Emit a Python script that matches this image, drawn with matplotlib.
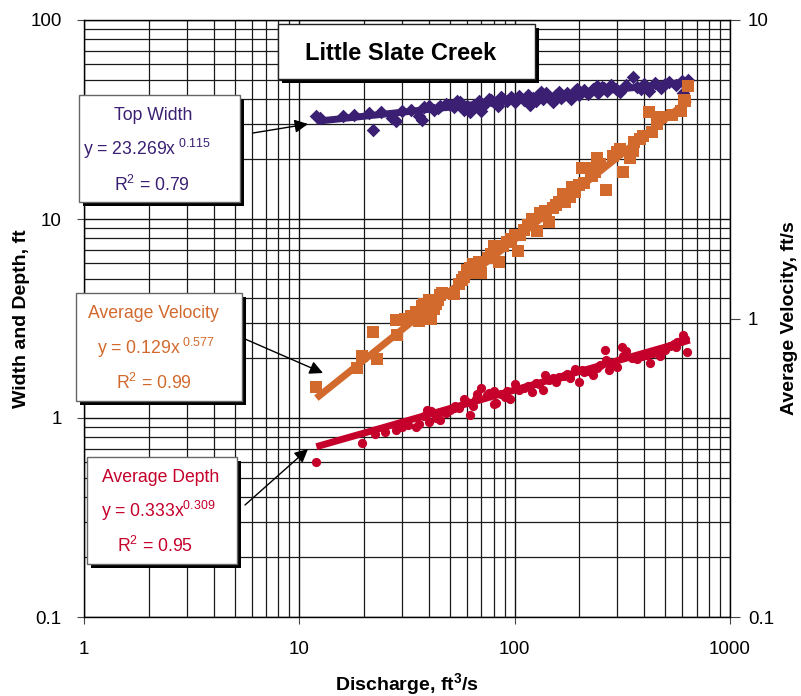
import matplotlib.pyplot as plt
from matplotlib.patches import Rectangle
from matplotlib.ticker import LogLocator, NullFormatter, NullLocator
import numpy as np

plt.rcParams['font.family'] = ['Liberation Sans', 'DejaVu Sans']
plt.rcParams['mathtext.fontset'] = 'custom'
plt.rcParams['mathtext.rm'] = 'Liberation Sans'
plt.rcParams['mathtext.it'] = 'Liberation Sans:italic'
plt.rcParams['mathtext.bf'] = 'Liberation Sans:bold'

# Top width, ft (left axis) vs discharge, ft3/s
tw_q = [12, 12.5, 16, 18, 21, 22, 24, 27, 28, 30, 33, 36, 37, 38, 40, 42, 45, 48,
        52, 56, 58, 60, 62, 65, 68, 70, 73, 76, 80, 84, 88, 92, 96, 100, 105, 110,
        115, 118, 122, 128, 135, 140, 145, 150, 155, 160, 168, 175, 182, 190, 200,
        210, 220, 232, 245, 255, 268, 280, 295, 310, 355, 370, 400, 420, 450, 480,
        520, 560, 600, 606, 640,
        44, 50, 54, 64, 78, 86, 98, 125, 132, 165, 195, 240, 260, 330, 385, 500]
tw_w = [33, 32, 33, 33.5, 34, 28, 34.5, 32, 31, 35, 35.5, 33, 31.5, 36.5, 37, 35.5,
        37, 38, 36.5, 38.5, 35.5, 37, 34.5, 37.5, 39, 35, 38, 40, 38.5, 37, 40, 39,
        41, 38.5, 41.5, 39.5, 42, 37.5, 40.5, 42, 40, 43, 41, 38.5, 42, 43.5, 41.5,
        43, 40, 44, 42, 44.5, 42.5, 45, 43, 46, 44, 47, 45, 43.5, 51.5, 46, 47.5,
        44, 48, 45.5, 49, 47, 49.5, 43, 50,
        36, 37.5, 39, 36.5, 39.5, 41, 40, 39, 43.5, 40.5, 45, 46.5, 45.5, 47, 45, 47.5]

# Average velocity, ft/s (right axis)
vel_q = [12, 18.5, 19.5, 22, 23, 28, 28.5, 31, 33, 35, 36, 37, 39, 40, 41, 42, 43,
         45, 46, 52, 55, 58, 60, 62, 64, 66, 70, 75, 80, 85, 88, 92, 96, 104, 106,
         110, 115, 120, 127, 131, 138, 145, 150, 160, 168, 172, 180, 190, 200, 205,
         210, 218, 225, 235, 240, 250, 265, 285, 310, 318, 345, 355, 360, 395, 420,
         435, 460, 540, 590, 610, 620, 640,
         38, 44, 57, 68, 78, 100, 140, 155, 185, 228, 300, 380, 480]
vel_v = [0.59, 0.68, 0.75, 0.90, 0.73, 0.99, 0.88, 1.0, 1.02, 1.05, 0.98, 1.10,
         1.05, 1.15, 1.0, 1.08, 1.12, 1.2, 1.22, 1.21, 1.3, 1.38, 1.45, 1.48, 1.52,
         1.42, 1.42, 1.6, 1.75, 1.55, 1.75, 1.8, 1.85, 1.68, 1.9, 1.98, 2.05, 2.15,
         1.97, 2.25, 2.3, 2.1, 2.35, 2.45, 2.62, 2.45, 2.55, 2.65, 2.8, 3.2, 2.85,
         3.2, 3.1, 3.1, 3.45, 3.3, 2.7, 3.5, 3.7, 3.1, 3.45, 3.65, 3.9, 4.1, 4.9,
         4.2, 4.5, 4.8, 4.95, 5.4, 5.35, 6.0,
         1.12, 1.15, 1.35, 1.55, 1.65, 1.9, 2.2, 2.4, 2.75, 3.0, 3.6, 4.0, 4.75]

# Average depth, ft (left axis)
dep_q = [12, 19.5, 22.5, 25, 28, 30, 32, 35, 36, 39, 40, 41, 44, 45, 48, 50, 53, 55,
         58, 60, 62, 64, 67, 70, 74, 80, 80, 82, 86, 90, 95, 100, 105, 110, 115,
         120, 125, 130, 135, 138, 145, 155, 160, 170, 180, 190, 200, 210, 220, 230,
         240, 250, 263, 275, 285, 300, 315, 330, 350, 370, 390, 410, 425, 450, 475,
         500, 525, 550, 570, 590, 605, 620, 632,
         38, 43, 52, 66, 76, 92, 118, 150, 175, 205, 265, 320, 440, 560]
dep_d = [0.60, 0.75, 0.83, 0.85, 0.87, 0.90, 0.92, 0.90, 0.93, 1.10, 0.96, 1.08,
         1.05, 0.98, 1.06, 1.10, 1.15, 1.12, 1.25, 1.20, 1.03, 1.15, 1.32, 1.42,
         1.30, 1.37, 1.17, 1.19, 1.32, 1.28, 1.24, 1.48, 1.38, 1.42, 1.45, 1.35,
         1.50, 1.48, 1.38, 1.65, 1.55, 1.52, 1.60, 1.62, 1.58, 1.77, 1.52, 1.70,
         1.72, 1.65, 1.78, 1.85, 2.20, 1.75, 1.90, 1.80, 2.27, 2.17, 2.00, 1.98,
         2.05, 2.07, 1.90, 2.15, 2.05, 2.20, 2.30, 2.35, 2.40, 2.45, 2.62, 2.50, 2.15,
         1.02, 1.0, 1.12, 1.25, 1.33, 1.36, 1.45, 1.58, 1.66, 1.75, 1.95, 2.05, 2.12, 2.28]

# power fits given in the boxes, y = a * x^b
fit_q = np.array([12.0, 650.0])
tw_a, tw_b = 23.269, 0.115
vel_a, vel_b = 0.129, 0.577
dep_a, dep_b = 0.333, 0.309

c_tw = '#3A1F72'
c_vel = '#D2692D'
c_dep = '#C4002B'

W, H = 801, 696
def fx(px):
    return px / W
def fy(py):
    return 1 - py / H

fig = plt.figure(figsize=(W / 100, H / 100), dpi=100)
ax = fig.add_axes([fx(84), fy(617), (730 - 84) / W, (617 - 20) / H])
ax.set_xscale('log')
ax.set_yscale('log')
ax.set_xlim(1, 1000)
ax.set_ylim(0.1, 100)
ax.set_xticks([1, 10, 100, 1000], labels=['1', '10', '100', '1000'])
ax.set_yticks([0.1, 1, 10, 100], labels=['0.1', '1', '10', '100'])
ax.xaxis.set_minor_locator(LogLocator(base=10, subs=np.arange(2, 10)))
ax.yaxis.set_minor_locator(LogLocator(base=10, subs=np.arange(2, 10)))
ax.xaxis.set_minor_formatter(NullFormatter())
ax.yaxis.set_minor_formatter(NullFormatter())
ax.tick_params(which='minor', length=0)
ax.tick_params(axis='x', which='major', direction='out', length=5, pad=12,
               labelsize=13.5, color='#444')
ax.tick_params(axis='y', which='major', direction='out', length=5, pad=11,
               labelsize=13.5, color='#444')
ax.grid(which='major', color='#111', lw=1.0)
ax.grid(which='minor', color='#1a1a1a', lw=0.9)
ax.set_axisbelow(True)
for s in ax.spines.values():
    s.set_color('#333')
    s.set_linewidth(1.0)

ax.scatter(tw_q, tw_w, marker='D', s=48, color=c_tw, lw=0, zorder=3)
ax.scatter(dep_q, dep_d, marker='o', s=44, color=c_dep, lw=0, zorder=3)
ax.plot(fit_q, tw_a * fit_q ** tw_b, color=c_tw, lw=5, solid_capstyle='butt', zorder=4)
ax.plot(fit_q, dep_a * fit_q ** dep_b, color=c_dep, lw=5, solid_capstyle='butt', zorder=4)

ax.set_xlabel('Discharge, ft$^\\mathbf{3}$/s', fontsize=14, fontweight='bold')
ax.xaxis.set_label_coords(0.5, (617 - 671) / 597)
ax.set_ylabel('Width and Depth, ft', fontsize=14, fontweight='bold')
ax.yaxis.set_label_coords((30 - 84) / 646, 0.5)

ax2 = ax.twinx()
ax2.set_yscale('log')
ax2.set_ylim(0.1, 10)
ax2.set_yticks([0.1, 1, 10], labels=['0.1', '1', '10'])
ax2.yaxis.set_minor_locator(NullLocator())
ax2.tick_params(axis='y', direction='out', length=7, pad=6, labelsize=13.5, color='#444')
ax2.scatter(vel_q, vel_v, marker='s', s=80, color=c_vel, lw=0, zorder=3)
ax2.plot(fit_q, vel_a * fit_q ** vel_b, color=c_vel, lw=5, solid_capstyle='butt', zorder=4)
ax2.set_ylabel('Average Velocity, ft/s', fontsize=14, fontweight='bold')
ax2.yaxis.set_label_coords((781 - 84) / 646, 0.5)


def box(x0, y0, x1, y1, edge='#666'):
    fig.add_artist(Rectangle((fx(x0 + 4), fy(y1 + 4)), (x1 - x0) / W, (y1 - y0) / H,
                             transform=fig.transFigure, facecolor='black',
                             edgecolor='none', zorder=10))
    fig.add_artist(Rectangle((fx(x0), fy(y1)), (x1 - x0) / W, (y1 - y0) / H,
                             transform=fig.transFigure, facecolor='white',
                             edgecolor=edge, lw=1.0, zorder=11))


def arrow(tail, tip):
    ax2.annotate('', xy=(fx(tip[0]), fy(tip[1])), xytext=(fx(tail[0]), fy(tail[1])),
                 xycoords='figure fraction', textcoords='figure fraction',
                 arrowprops=dict(arrowstyle='-|>', color='black', lw=1.0,
                                 mutation_scale=20, shrinkA=0, shrinkB=0),
                 annotation_clip=False, zorder=12)


# title box
box(278, 24, 535, 79, edge='#222')
fig.text(fx(401), fy(53), 'Little Slate Creek', fontsize=17, fontweight='bold',
         ha='center', va='center', zorder=12)

# top width box
box(79, 95, 240, 202)
fig.text(fx(153), fy(115), 'Top Width', color=c_tw, fontsize=12.7, ha='center', va='center', zorder=12)
fig.text(fx(147), fy(149), 'y = 23.269x$^{\\ 0.115}$', color=c_tw, fontsize=12.7, ha='center', va='center', zorder=12)
fig.text(fx(152), fy(185), 'R$^{2}$ = 0.79', color=c_tw, fontsize=12.7, ha='center', va='center', zorder=12)
arrow((253, 133), (308, 124))

# velocity box
box(76, 293, 242, 401)
fig.text(fx(153), fy(313), 'Average Velocity', color=c_vel, fontsize=12.7, ha='center', va='center', zorder=12)
fig.text(fx(156), fy(348), 'y = 0.129x$^{\\ 0.577}$', color=c_vel, fontsize=12.7, ha='center', va='center', zorder=12)
fig.text(fx(154), fy(383), 'R$^{2}$ = 0.99', color=c_vel, fontsize=12.7, ha='center', va='center', zorder=12)
arrow((245, 339), (323, 373))

# depth box
box(87, 457, 237, 564)
fig.text(fx(161), fy(478), 'Average Depth', color=c_dep, fontsize=12.7, ha='center', va='center', zorder=12)
fig.text(fx(158), fy(511), 'y = 0.333x$^{0.309}$', color=c_dep, fontsize=12.7, ha='center', va='center', zorder=12)
fig.text(fx(155), fy(546), 'R$^{2}$ = 0.95', color=c_dep, fontsize=12.7, ha='center', va='center', zorder=12)
arrow((245, 505), (308, 449))

fig.savefig('out.png', dpi=100)
